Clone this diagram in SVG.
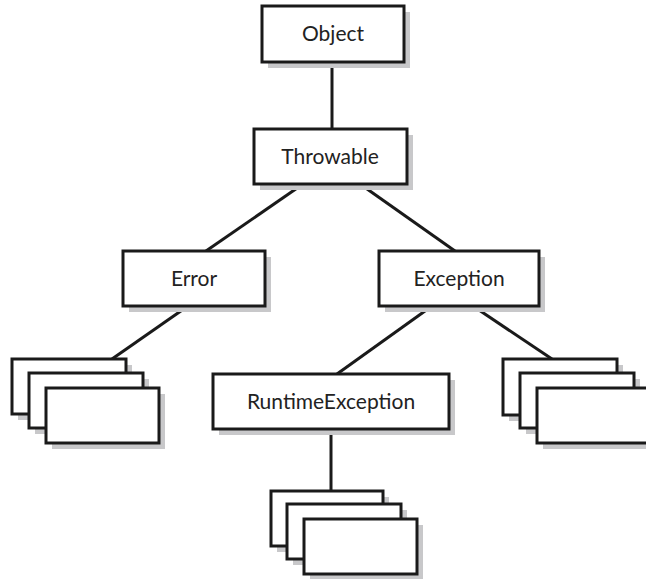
<svg xmlns="http://www.w3.org/2000/svg" width="646" height="579" viewBox="0 0 646 579">
<style>
.box{fill:#fff;stroke:#1a1a1a;stroke-width:3}
.sh{fill:#c8c8ca}
.ln{stroke:#1a1a1a;stroke-width:3;fill:none}
.t{font-family:Lato,"Open Sans",sans-serif;font-size:21px;fill:#222;text-anchor:middle}
</style>
<rect width="646" height="579" fill="#fff"/>
<g id="connectors">
<line class="ln" x1="332" y1="62" x2="332" y2="129"/>
<line class="ln" x1="303" y1="184" x2="206" y2="251"/>
<line class="ln" x1="360" y1="184" x2="455" y2="251"/>
<line class="ln" x1="188" y1="306" x2="112" y2="359"/>
<line class="ln" x1="432" y1="306" x2="337" y2="374"/>
<line class="ln" x1="473" y1="306" x2="552" y2="359"/>
<line class="ln" x1="331" y1="429" x2="331" y2="491"/>
</g>
<g id="object">
<rect class="sh" x="268" y="12" width="142" height="56"/>
<rect class="box" x="262" y="6" width="142" height="56"/>
<text class="t" x="333" y="41">Object</text>
</g>
<g id="throwable">
<rect class="sh" x="260" y="135" width="153" height="55"/>
<rect class="box" x="254" y="129" width="153" height="55"/>
<text class="t" x="330" y="164">Throwable</text>
</g>
<g id="error">
<rect class="sh" x="129" y="257" width="142" height="55"/>
<rect class="box" x="123" y="251" width="142" height="55"/>
<text class="t" x="194" y="286">Error</text>
</g>
<g id="exception">
<rect class="sh" x="385" y="257" width="160" height="55"/>
<rect class="box" x="379" y="251" width="160" height="55"/>
<text class="t" x="459" y="286">Exception</text>
</g>
<g id="runtimeexception">
<rect class="sh" x="219" y="380" width="236" height="55"/>
<rect class="box" x="213" y="374" width="236" height="55"/>
<text class="t" x="331" y="409">RuntimeException</text>
</g>
<g id="error-subclasses">
<rect class="sh" x="18" y="365" width="114" height="55"/>
<rect class="box" x="12" y="359" width="114" height="55"/>
<rect class="sh" x="35" y="379" width="114" height="55"/>
<rect class="box" x="29" y="373" width="114" height="55"/>
<rect class="sh" x="52" y="394" width="113" height="55"/>
<rect class="box" x="46" y="388" width="113" height="55"/>
</g>
<g id="exception-subclasses">
<rect class="sh" x="509" y="365" width="114" height="56"/>
<rect class="box" x="503" y="359" width="114" height="56"/>
<rect class="sh" x="526" y="379" width="114" height="55"/>
<rect class="box" x="520" y="373" width="114" height="55"/>
<rect class="sh" x="543" y="394" width="114" height="55"/>
<rect class="box" x="537" y="388" width="114" height="55"/>
</g>
<g id="runtime-subclasses">
<rect class="sh" x="277" y="497" width="112" height="55"/>
<rect class="box" x="271" y="491" width="112" height="55"/>
<rect class="sh" x="293" y="510" width="114" height="55"/>
<rect class="box" x="287" y="504" width="114" height="55"/>
<rect class="sh" x="310" y="525" width="113" height="55"/>
<rect class="box" x="304" y="519" width="113" height="55"/>
</g>
</svg>
